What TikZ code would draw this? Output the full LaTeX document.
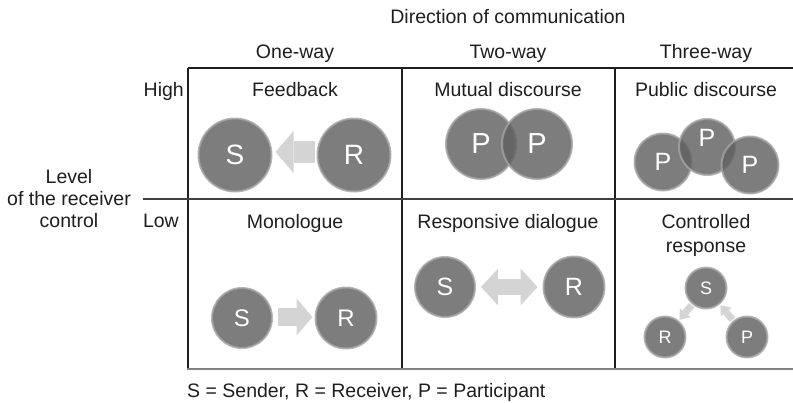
\documentclass[tikz,border=0pt]{standalone}
\usepackage{fontspec}
\setmainfont{Liberation Sans}
\usetikzlibrary{arrows.meta}
\definecolor{ballc}{RGB}{96,96,96}
\definecolor{rimc}{RGB}{165,165,165}
\definecolor{arrc}{RGB}{212,212,212}
\definecolor{ink}{RGB}{30,30,30}
\definecolor{lowline}{RGB}{130,130,130}
\tikzset{
  ball/.style={circle, fill=ballc, fill opacity=0.82, draw=rimc, draw opacity=0.8,
    line width=2pt, text=white, text opacity=1, inner sep=0pt, minimum size=#1},
  lbl/.style={font=\fontsize{19.5}{22}\selectfont, text=ink, inner sep=0pt, anchor=base},
  gridline/.style={line width=1.2pt, draw=ink},
  fatarrow/.style n args={3}{draw=arrc, line width=#1, line cap=butt,
    -{Triangle[width=#2, length=#3, line width=0pt]}},
  fatdouble/.style n args={3}{draw=arrc, line width=#1, line cap=butt,
    {Triangle[width=#2, length=#3, line width=0pt]}-{Triangle[width=#2, length=#3, line width=0pt]}},
}
\begin{document}
\begin{tikzpicture}[x=1pt, y=-1pt]
\useasboundingbox (0,0) rectangle (793,402);

% grid
\draw[gridline] (188,68) -- (793,68);
\draw[gridline] (188,68) -- (188,369);
\draw[gridline] (402,68) -- (402,369);
\draw[gridline] (615,68) -- (615,369);
\draw[gridline, draw=ink!85] (143,199) -- (793,199);
\draw[line width=2pt, draw=lowline] (187,369) -- (793,369);

% headers
\node[lbl] (dir) at (508,23) {Direction of communication};
\node[lbl] (one) at (295,58) {One-way};
\node[lbl] (two) at (508,58) {Two-way};
\node[lbl] (three) at (706,58) {Three-way};
\node[lbl, anchor=base east] (high) at (184,96) {High};
\node[lbl, anchor=base east] (low) at (179,227) {Low};
\node[lbl] (lev1) at (69,183) {Level};
\node[lbl] (lev2) at (69,205) {of the receiver};
\node[lbl] (lev3) at (69,227) {control};

% cell titles
\node[lbl] (tfb) at (295,96) {Feedback};
\node[lbl] (tmd) at (508,96) {Mutual discourse};
\node[lbl] (tpd) at (706,96) {Public discourse};
\node[lbl] (tmo) at (295,228) {Monologue};
\node[lbl] (trd) at (508,228) {Responsive dialogue};
\node[lbl] (tcr1) at (706,228) {Controlled};
\node[lbl] (tcr2) at (706,252) {response};

% Feedback
\node[ball=73pt, font=\fontsize{28}{30}\selectfont] (fbS) at (235,155) {S};
\node[ball=73pt, font=\fontsize{28}{30}\selectfont] (fbR) at (354,155) {R};
\draw[fatarrow={22pt}{42pt}{18pt}, shorten <=2pt, shorten >=3pt]
  ([yshift=3pt]fbR.west) -- ([yshift=3pt]fbS.east);

% Mutual discourse
\node[ball=70pt, font=\fontsize{29}{31}\selectfont] (mdP1) at (481,144) {P};
\node[ball=70pt, font=\fontsize{29}{31}\selectfont] (mdP2) at (537,144) {P};

% Public discourse
\node[ball=57pt, font=\fontsize{25}{27}\selectfont] (pdP1) at (663,162) {P};
\node[ball=56pt] (pdP2) at (707,147) {};
\node[text=white, inner sep=0pt, font=\fontsize{25}{27}\selectfont] (pdP2l) at (707,138) {P};
\node[ball=57pt, font=\fontsize{25}{27}\selectfont] (pdP3) at (750,165) {P};

% Monologue
\node[ball=60pt, font=\fontsize{24}{26}\selectfont] (moS) at (242,318) {S};
\node[ball=61pt, font=\fontsize{24}{26}\selectfont] (moR) at (346,318) {R};
\draw[fatarrow={18pt}{37pt}{16pt}, shorten <=5pt, shorten >=2pt]
  ([yshift=1pt]moS.east) -- ([yshift=1pt]moR.west);

% Responsive dialogue
\node[ball=60pt, font=\fontsize{25}{27}\selectfont] (rdS) at (445,287) {S};
\node[ball=61pt, font=\fontsize{25}{27}\selectfont] (rdR) at (574,287) {R};
\draw[fatdouble={16pt}{37pt}{17pt}, shorten <=5pt, shorten >=5pt]
  (rdS.east) -- (rdR.west);

% Controlled response
\node[ball=41pt, font=\fontsize{18}{20}\selectfont] (crS) at (706,288) {S};
\node[ball=41pt, font=\fontsize{18}{20}\selectfont] (crR) at (665,337) {R};
\node[ball=41pt, font=\fontsize{18}{20}\selectfont] (crP) at (747,337) {P};
\draw[fatarrow={7pt}{14pt}{9pt}, shorten <=1pt, shorten >=1pt] (crS) -- (crR);
\draw[fatarrow={7pt}{14pt}{9pt}, shorten <=1pt, shorten >=1pt] (crP) -- (crS);

% legend
\node[lbl, anchor=base west] (legend) at (187,397) {S = Sender, R = Receiver, P = Participant};
\end{tikzpicture}
\end{document}
